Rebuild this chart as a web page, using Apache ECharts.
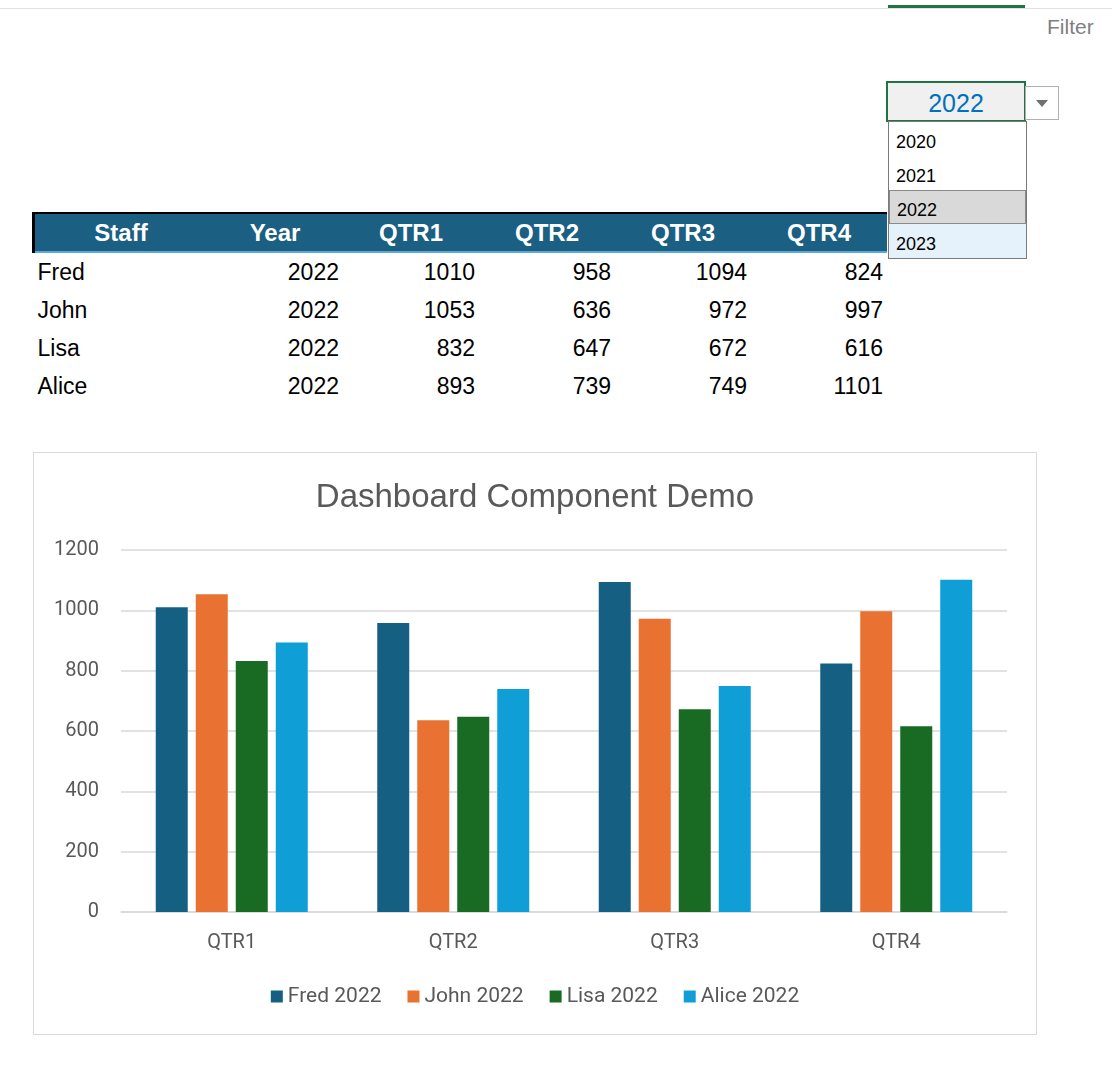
<!DOCTYPE html>
<html>
<head>
<meta charset="utf-8">
<script src="https://cdn.jsdelivr.net/npm/echarts@6/dist/echarts.min.js"></script>
<style>
  body { margin:0; background:#fff; width:1112px; height:1068px; position:relative; overflow:hidden; font-family:"Liberation Sans", Arial, sans-serif; }
  .topline { position:absolute; left:0; top:8px; width:1112px; height:1px; background:#e1e1e1; }
  .tabbar { position:absolute; left:888px; top:5px; width:137px; height:3px; background:#217346; }
  .filter { position:absolute; left:1047px; top:15px; font-size:21px; color:#7f7f7f; }
  .dd { position:absolute; left:886px; top:81px; width:136px; height:37px; border:2px solid #217346; background:#f0f0f0; color:#0070c0; font-size:25px; text-align:center; line-height:41px; }
  .dd-btn { position:absolute; left:1025px; top:86px; width:32px; height:32px; border:1px solid #b0b0b0; background:#fff; }
  .dd-btn:after { content:""; position:absolute; left:10px; top:13px; border-left:6px solid transparent; border-right:6px solid transparent; border-top:7px solid #707070; }
  .list { position:absolute; left:888px; top:121px; width:137px; border:1px solid #7a7a7a; background:#fff; }
  .list div { height:34px; line-height:40px; padding-left:7px; font-size:18px; color:#000; box-sizing:border-box; }
  .list .sel { background:#d9d9d9; border:1px solid #8a8a8a; line-height:38px; }
  .list .hov { background:#e5f1fb; }
  table { position:absolute; left:32px; top:212px; border-collapse:collapse; font-size:23px; }
  th { background:#1b5f82; color:#fff; height:37px; padding:0; font-weight:bold; font-size:24px; border-bottom:2px solid #5fa8d3; line-height:37px; }
  tr.h th:first-child { border-left:3px solid #000; }
  tr.h { border-top:2px solid #000; }
  td { height:38px; padding:0 4px; color:#000; line-height:38px; }
  td.num { text-align:right; }
  #chart { position:absolute; left:33px; top:452px; width:1002px; height:581px; border:1px solid #d9d9d9; }
</style>
</head>
<body>
<div class="topline"></div>
<div class="tabbar"></div>
<div class="filter">Filter</div>
<table id="tbl"></table>
<div class="dd">2022</div>
<div class="dd-btn"></div>
<div class="list" id="list"></div>
<div id="chart"></div>
<script>
var quarters = ['QTR1', 'QTR2', 'QTR3', 'QTR4'];
var staff = ['Fred', 'John', 'Lisa', 'Alice'];
var year = 2022;
var years = [2020, 2021, 2022, 2023];
var fred = [1010, 958, 1094, 824];
var john = [1053, 636, 972, 997];
var lisa = [832, 647, 672, 616];
var alice = [893, 739, 749, 1101];
var yTicks = [0, 200, 400, 600, 800, 1000, 1200];
var colors = ['#156082', '#e97132', '#196b24', '#0f9ed5'];

var rows = [fred, john, lisa, alice];

// table
var html = '<tr class="h"><th style="width:172px">Staff</th><th style="width:136px">Year</th>';
quarters.forEach(function (q) { html += '<th style="width:136px">' + q + '</th>'; });
html += '</tr>';
staff.forEach(function (s, i) {
  html += '<tr><td style="padding-left:4px">' + s + '</td><td class="num">' + year + '</td>';
  rows[i].forEach(function (v) { html += '<td class="num">' + v + '</td>'; });
  html += '</tr>';
});
document.getElementById('tbl').innerHTML = html;

// dropdown list
var lh = '';
years.forEach(function (y) {
  var c = y === year ? 'sel' : (y === 2023 ? 'hov' : '');
  lh += '<div class="' + c + '">' + y + '</div>';
});
document.getElementById('list').innerHTML = lh;

var chart = echarts.init(document.getElementById('chart'));
var series = staff.map(function (s, i) {
  return {
    name: s + ' ' + year,
    type: 'bar',
    data: rows[i],
    barWidth: 32,
    barGap: '25%',
    itemStyle: { color: colors[i] }
  };
});
var option = {
  color: colors,
  animation: false,
  textStyle: { fontFamily: 'Roboto, sans-serif' },
  title: {
    text: 'Dashboard Component Demo',
    left: 'center',
    top: 23,
    textStyle: { fontSize: 33, fontWeight: 'normal', color: '#595959', fontFamily: 'Liberation Sans, Arial' }
  },
  legend: {
    bottom: 22,
    left: 'center',
    itemWidth: 12,
    itemHeight: 12,
    itemGap: 26,
    icon: 'rect',
    textStyle: { fontSize: 21, color: '#595959' }
  },
  grid: { left: 87, right: 29, top: 97, bottom: 122 },
  xAxis: {
    type: 'category',
    data: quarters,
    axisTick: { show: false },
    axisLine: { lineStyle: { color: '#d9d9d9', width: 1.5 } },
    axisLabel: { color: '#595959', fontSize: 20, margin: 21 }
  },
  yAxis: {
    type: 'value',
    min: yTicks[0],
    max: yTicks[yTicks.length - 1],
    interval: 200,
    axisLine: { show: false },
    axisTick: { show: false },
    splitLine: { lineStyle: { color: '#d9d9d9', width: 1.5 } },
    axisLabel: { color: '#595959', fontSize: 20, margin: 22, formatter: function (v) { return String(v); } }
  },
  series: series
};
chart.setOption(option);
</script>
</body>
</html>
